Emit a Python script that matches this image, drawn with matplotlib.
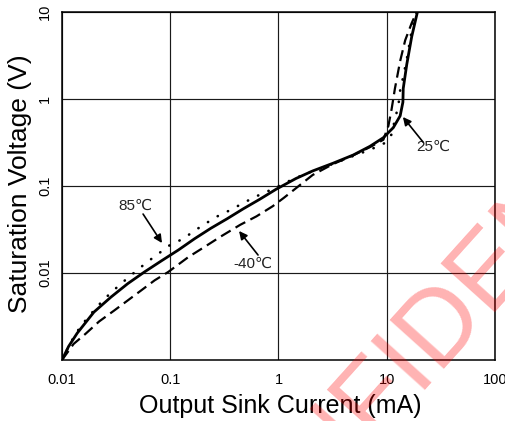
import matplotlib
matplotlib.use("Agg")
import matplotlib.pyplot as plt
from matplotlib.ticker import FixedLocator, FixedFormatter, NullLocator

plt.rcParams['font.family'] = ['Liberation Sans', 'DejaVu Sans']

# ---- data ----
x_25 = [0.01, 0.0115, 0.0138, 0.0197, 0.0283, 0.0405, 0.0579, 0.0829, 0.119, 0.168,
        0.2375, 0.336, 0.474, 0.67, 0.948, 1.45, 2.07, 3.2, 4.9, 7.0, 9.3,
        11.5, 13.3, 14.1, 14.2, 15.3, 17.0, 19.2]
y_25 = [0.001, 0.00143, 0.00203, 0.00355, 0.00528, 0.00755, 0.0103, 0.0138, 0.0184, 0.0248,
        0.0327, 0.0421, 0.0548, 0.0703, 0.0916, 0.122, 0.149, 0.183, 0.227, 0.286, 0.359,
        0.469, 0.64, 0.92, 1.32, 2.49, 5.2, 10.0]

x_m40 = [0.01, 0.0128, 0.0165, 0.022, 0.0304, 0.0405, 0.0539, 0.0718, 0.0957, 0.1465,
         0.2067, 0.292, 0.443, 0.626, 0.883, 1.125, 2.07, 3.17, 5.0, 7.0, 9.3, 10.35,
         11.1, 11.9, 13.3, 14.8, 17.0, 18.9]
y_m40 = [0.001, 0.00153, 0.002, 0.00277, 0.00371, 0.00484, 0.00631, 0.00824, 0.01027,
         0.0152, 0.0199, 0.0262, 0.0358, 0.0448, 0.0585, 0.0734, 0.134, 0.178, 0.228,
         0.28, 0.34, 0.49, 0.77, 1.32, 2.73, 4.73, 7.46, 10.0]

x_85 = [0.01, 0.0115, 0.0133, 0.01616, 0.0197, 0.0242, 0.0304, 0.0382, 0.0484, 0.0614,
        0.0782, 0.0991, 0.132, 0.166, 0.214, 0.276, 0.36, 0.468, 0.604, 0.78, 1.01,
        1.36, 2.0, 3.2, 4.7, 6.0, 8.0, 9.5, 11.1, 11.9, 12.8, 13.3, 14.2, 15.3,
        16.2, 17.0, 18.9]
y_85 = [0.001, 0.00142, 0.002, 0.00277, 0.00371, 0.00493, 0.00643, 0.00824, 0.01054,
        0.0134, 0.01675, 0.0209, 0.0248, 0.0304, 0.0373, 0.0452, 0.053, 0.0633, 0.0748,
        0.086, 0.1, 0.12, 0.146, 0.18, 0.217, 0.243, 0.28, 0.31, 0.392, 0.585, 0.836,
        1.26, 1.81, 2.86, 4.31, 6.2, 10.0]

x_ticks = [0.01, 0.1, 1, 10, 100]
x_tick_labels = ['0.01', '0.1', '1', '10', '100']
y_ticks = [0.01, 0.1, 1, 10]
y_tick_labels = ['0.01', '0.1', '1', '10']

label_85 = '85\u2103'
label_25 = '25\u2103'
label_m40 = '-40\u2103'

# ---- figure ----
W, H = 506, 421
fig = plt.figure(figsize=(W / 100, H / 100), dpi=100)
ax = fig.add_axes([62 / W, 1 - 360 / H, (495 - 62) / W, (360 - 12) / H])
ax.set_xscale('log')
ax.set_yscale('log')
ax.set_xlim(0.01, 100)
ax.set_ylim(0.001, 10)

ax.xaxis.set_major_locator(FixedLocator(x_ticks))
ax.xaxis.set_major_formatter(FixedFormatter(x_tick_labels))
ax.xaxis.set_minor_locator(NullLocator())
ax.yaxis.set_major_locator(FixedLocator(y_ticks))
ax.yaxis.set_major_formatter(FixedFormatter(y_tick_labels))
ax.yaxis.set_minor_locator(NullLocator())

ax.grid(True, which='major', color='#1a1a1a', lw=0.85)
ax.set_axisbelow(True)
for s in ax.spines.values():
    s.set_linewidth(1.1)
    s.set_color('black')

ax.tick_params(axis='both', length=0, labelsize=10.5, colors='black')
ax.tick_params(axis='x', pad=9)
ax.tick_params(axis='y', pad=7)
for lab in ax.get_yticklabels():
    lab.set_rotation(90)
    lab.set_va('center')

ax.plot(x_85, y_85, color='black', lw=1.9, linestyle=(0, (0.1, 4.2)),
        dash_capstyle='round', clip_on=True)
ax.plot(x_m40, y_m40, color='black', lw=1.6, linestyle=(0, (5, 2.6)), clip_on=True)
ax.plot(x_25, y_25, color='black', lw=2.0, solid_capstyle='round', clip_on=True)

ann_font = dict(family=['Liberation Sans Narrow', 'Liberation Sans', 'DejaVu Sans'],
                size=11, color='#222222', ha='center', va='center')
arrow = dict(arrowstyle='-|>', lw=1.2, color='black', mutation_scale=12,
             shrinkA=0, shrinkB=0)

ax.text(0.0472, 0.0589, label_85, **ann_font)
ax.annotate('', xy=(0.0839, 0.0221), xytext=(0.0561, 0.0476), arrowprops=arrow)

ax.text(0.581, 0.01268, label_m40, **ann_font)
ax.annotate('', xy=(0.432, 0.0304), xytext=(0.647, 0.0161), arrowprops=arrow)

ax.text(26.7, 0.281, label_25, **ann_font)
ax.annotate('', xy=(14.1, 0.621), xytext=(21.6, 0.321), arrowprops=arrow)

fig.text(280 / W, 1 - 406 / H, 'Output Sink Current (mA)', ha='center', va='center',
         fontsize=18, color='black')
fig.text(20.5 / W, 1 - 184 / H, 'Saturation Voltage (V)', ha='center', va='center',
         rotation=90, fontsize=19, color='black')

# watermark
fig.text(477 / W, 1 - 327 / H, 'CONFIDENTIAL', ha='center', va='baseline',
         rotation=48, rotation_mode='anchor', fontsize=76, color='#ff0000', alpha=0.3,
         zorder=10)

fig.savefig('out.png', dpi=100)
